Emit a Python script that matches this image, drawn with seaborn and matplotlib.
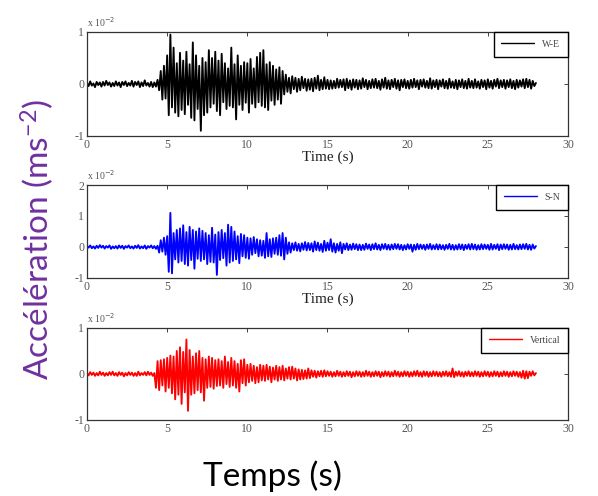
import numpy as np
import pandas as pd
import matplotlib
matplotlib.use("Agg")
import matplotlib.pyplot as plt
import seaborn as sns

# accélérations, en unités de 1e-2 m/s², pas de 0.1 s
DT = 0.1

we_vals = [
    0.02, -0.04, 0.05, -0.03, 0.01, -0.06, 0.04, -0.02, 0.03, -0.05,
    0.04, -0.03, 0.06, -0.02, 0.03, -0.05, 0.02, -0.04, 0.05, -0.03,
    0.03, -0.06, 0.04, -0.02, 0.05, -0.04, 0.02, -0.03, 0.06, -0.05,
    0.04, -0.02, 0.05, -0.06, 0.03, -0.04, 0.07, -0.03, 0.02, -0.05,
    0.04, -0.06, 0.03, -0.05, 0.08, -0.12, 0.25, -0.30, 0.35, -0.28,
    0.55, -0.60, 0.95, -0.45, 0.70, -0.55, 0.40, -0.62, 0.60, -0.50,
    0.45, -0.58, 0.62, -0.40, 0.38, -0.65, 0.80, -0.70, 0.55, -0.48,
    0.35, -0.90, 0.50, -0.60, 0.42, -0.55, 0.65, -0.45, 0.50, -0.38,
    0.62, -0.52, 0.45, -0.60, 0.58, -0.35, 0.40, -0.48, 0.30, -0.42,
    0.70, -0.45, 0.38, -0.68, 0.55, -0.40, 0.35, -0.50, 0.42, -0.36,
    0.40, -0.55, 0.48, -0.38, 0.30, -0.45, 0.52, -0.35, 0.60, -0.42,
    0.65, -0.45, 0.38, -0.50, 0.42, -0.32, 0.35, -0.40, 0.28, -0.30,
    0.32, -0.38, 0.25, -0.20, 0.18, -0.15, 0.12, -0.18, 0.15, -0.10,
    0.12, -0.15, 0.10, -0.12, 0.14, -0.08, 0.10, -0.13, 0.09, -0.11,
    0.10, -0.14, 0.12, -0.09, 0.16, -0.12, 0.08, -0.10, 0.13, -0.09,
    0.08, -0.10, 0.07, -0.09, 0.06, -0.08, 0.10, -0.07, 0.08, -0.06,
    0.09, -0.12, 0.10, -0.08, 0.07, -0.11, 0.09, -0.07, 0.08, -0.10,
    0.07, -0.09, 0.11, -0.06, 0.08, -0.10, 0.06, -0.08, 0.09, -0.07,
    0.10, -0.08, 0.06, -0.11, 0.09, -0.07, 0.12, -0.09, 0.07, -0.10,
    0.08, -0.06, 0.10, -0.09, 0.07, -0.12, 0.08, -0.06, 0.09, -0.08,
    0.06, -0.09, 0.08, -0.07, 0.10, -0.06, 0.07, -0.10, 0.08, -0.05,
    0.09, -0.07, 0.06, -0.08, 0.11, -0.09, 0.07, -0.06, 0.08, -0.10,
    0.07, -0.05, 0.09, -0.08, 0.06, -0.09, 0.10, -0.07, 0.05, -0.08,
    0.08, -0.10, 0.07, -0.06, 0.09, -0.08, 0.06, -0.09, 0.10, -0.07,
    0.06, -0.08, 0.09, -0.07, 0.05, -0.09, 0.08, -0.06, 0.07, -0.10,
    0.09, -0.07, 0.06, -0.09, 0.08, -0.05, 0.10, -0.08, 0.07, -0.06,
    0.08, -0.09, 0.07, -0.06, 0.09, -0.08, 0.06, -0.10, 0.08, -0.07,
    0.07, -0.05, 0.09, -0.08, 0.10, -0.06, 0.08, -0.09, 0.06, -0.04,
    0.02,
]

sn_vals = [
    0.03, -0.02, 0.05, -0.04, 0.02, -0.05, 0.04, -0.03, 0.06, -0.02,
    0.04, -0.05, 0.03, -0.02, 0.05, -0.06, 0.02, -0.04, 0.03, -0.05,
    0.05, -0.03, 0.04, -0.06, 0.03, -0.02, 0.05, -0.04, 0.02, -0.05,
    0.04, -0.03, 0.06, -0.05, 0.02, -0.04, 0.05, -0.06, 0.03, -0.02,
    0.05, -0.04, 0.03, -0.06, 0.04, -0.18, 0.22, -0.15, 0.30, -0.25,
    0.35, -0.80, 1.10, -0.85, 0.45, -0.40, 0.55, -0.50, 0.60, -0.45,
    0.70, -0.55, 0.48, -0.60, 0.65, -0.42, 0.55, -0.70, 0.50, -0.38,
    0.60, -0.45, 0.52, -0.40, 0.45, -0.55, 0.38, -0.48, 0.62, -0.50,
    0.40, -0.90, 0.48, -0.42, 0.55, -0.36, 0.45, -0.60, 0.72, -0.50,
    0.65, -0.45, 0.50, -0.40, 0.35, -0.52, 0.42, -0.30, 0.38, -0.35,
    0.30, -0.38, 0.28, -0.25, 0.32, -0.20, 0.25, -0.30, 0.22, -0.28,
    0.20, -0.35, 0.45, -0.30, 0.25, -0.32, 0.28, -0.22, 0.30, -0.25,
    0.38, -0.28, 0.45, -0.40, 0.30, -0.22, 0.15, -0.18, 0.12, -0.10,
    0.15, -0.12, 0.10, -0.14, 0.12, -0.09, 0.16, -0.11, 0.13, -0.10,
    0.12, -0.15, 0.18, -0.10, 0.14, -0.12, 0.10, -0.16, 0.20, -0.12,
    0.14, -0.10, 0.25, -0.15, 0.12, -0.18, 0.10, -0.12, 0.15, -0.20,
    0.10, -0.08, 0.12, -0.10, 0.08, -0.09, 0.11, -0.07, 0.09, -0.10,
    0.08, -0.10, 0.07, -0.09, 0.11, -0.06, 0.08, -0.10, 0.09, -0.07,
    0.12, -0.08, 0.07, -0.10, 0.09, -0.06, 0.10, -0.08, 0.07, -0.09,
    0.08, -0.07, 0.10, -0.06, 0.09, -0.08, 0.07, -0.10, 0.06, -0.08,
    0.09, -0.06, 0.08, -0.15, 0.07, -0.09, 0.10, -0.07, 0.08, -0.06,
    0.07, -0.09, 0.08, -0.06, 0.10, -0.08, 0.06, -0.07, 0.09, -0.08,
    0.08, -0.07, 0.06, -0.09, 0.07, -0.06, 0.10, -0.08, 0.07, -0.09,
    0.06, -0.08, 0.09, -0.07, 0.08, -0.10, 0.07, -0.06, 0.09, -0.08,
    0.10, -0.07, 0.08, -0.09, 0.06, -0.08, 0.09, -0.07, 0.08, -0.06,
    0.07, -0.09, 0.10, -0.08, 0.07, -0.06, 0.09, -0.10, 0.08, -0.07,
    0.09, -0.06, 0.08, -0.09, 0.07, -0.08, 0.10, -0.07, 0.06, -0.08,
    0.08, -0.07, 0.09, -0.06, 0.10, -0.08, 0.07, -0.09, 0.08, -0.05,
    0.03,
]

vert_vals = [
    0.02, -0.03, 0.04, -0.02, 0.03, -0.04, 0.02, -0.03, 0.05, -0.02,
    0.03, -0.04, 0.02, -0.03, 0.04, -0.02, 0.05, -0.03, 0.02, -0.04,
    0.04, -0.02, 0.03, -0.05, 0.02, -0.03, 0.04, -0.02, 0.03, -0.04,
    0.02, -0.04, 0.05, -0.03, 0.02, -0.02, 0.04, -0.03, 0.05, -0.02,
    0.03, -0.04, 0.02, -0.30, 0.28, -0.35, 0.30, -0.25, 0.32, -0.38,
    0.35, -0.30, 0.40, -0.42, 0.38, -0.55, 0.50, -0.45, 0.58, -0.65,
    0.48, -0.40, 0.75, -0.80, 0.52, -0.45, 0.38, -0.42, 0.45, -0.35,
    0.50, -0.40, 0.35, -0.58, 0.32, -0.30, 0.38, -0.28, 0.35, -0.32,
    0.30, -0.26, 0.32, -0.25, 0.28, -0.30, 0.38, -0.22, 0.26, -0.28,
    0.35, -0.25, 0.28, -0.30, 0.22, -0.38, 0.30, -0.20, 0.32, -0.25,
    0.20, -0.18, 0.22, -0.15, 0.18, -0.20, 0.15, -0.18, 0.20, -0.14,
    0.18, -0.15, 0.20, -0.12, 0.16, -0.18, 0.14, -0.12, 0.18, -0.15,
    0.15, -0.12, 0.18, -0.14, 0.12, -0.10, 0.15, -0.12, 0.16, -0.10,
    0.12, -0.14, 0.10, -0.12, 0.09, -0.11, 0.08, -0.10, 0.12, -0.09,
    0.08, -0.06, 0.07, -0.08, 0.06, -0.05, 0.07, -0.06, 0.08, -0.05,
    0.06, -0.04, 0.05, -0.06, 0.04, -0.05, 0.07, -0.04, 0.05, -0.06,
    0.04, -0.05, 0.06, -0.04, 0.05, -0.07, 0.04, -0.05, 0.06, -0.04,
    0.05, -0.06, 0.04, -0.05, 0.07, -0.04, 0.05, -0.06, 0.04, -0.05,
    0.06, -0.04, 0.05, -0.07, 0.04, -0.05, 0.06, -0.04, 0.05, -0.06,
    0.04, -0.05, 0.07, -0.04, 0.05, -0.06, 0.04, -0.05, 0.06, -0.04,
    0.05, -0.06, 0.04, -0.05, 0.06, -0.04, 0.07, -0.05, 0.04, -0.06,
    0.06, -0.04, 0.05, -0.06, 0.04, -0.05, 0.06, -0.04, 0.05, -0.05,
    0.04, -0.06, 0.05, -0.04, 0.06, -0.05, 0.04, -0.06, 0.12, -0.07,
    0.05, -0.04, 0.06, -0.05, 0.04, -0.06, 0.05, -0.04, 0.06, -0.05,
    0.04, -0.05, 0.06, -0.04, 0.05, -0.06, 0.04, -0.05, 0.06, -0.04,
    0.05, -0.06, 0.04, -0.05, 0.06, -0.04, 0.05, -0.06, 0.04, -0.05,
    0.06, -0.04, 0.05, -0.06, 0.04, -0.05, 0.06, -0.04, 0.05, -0.06,
    0.04, -0.08, 0.07, -0.10, 0.06, -0.09, 0.05, -0.04, 0.06, -0.03,
    0.02,
]

labels = ["W-E", "S-N", "Vertical"]
colors = ["black", "#0000ff", "#ff0000"]
ylims = [(-1, 1), (-1, 2), (-1, 1)]
yticks = [[-1, 0, 1], [-1, 0, 1, 2], [-1, 0, 1]]
xticks = [0, 5, 10, 15, 20, 25, 30]
series = [we_vals, sn_vals, vert_vals]

sns.set_style("white")
plt.rcParams["axes.unicode_minus"] = False

W, H = 598, 496
fig = plt.figure(figsize=(W / 100, H / 100), dpi=100)

# positions des axes en pixels (haut, bas)
boxes = [(32, 136), (185, 278), (328, 420)]
left_px, right_px = 87, 568

for i, (vals, lab, col) in enumerate(zip(series, labels, colors)):
    top, bot = boxes[i]
    ax = fig.add_axes([left_px / W, 1 - bot / H, (right_px - left_px) / W, (bot - top) / H])
    df = pd.DataFrame({"t": np.round(np.arange(len(vals)) * DT, 1), "a": vals})
    sns.lineplot(data=df, x="t", y="a", ax=ax, color=col, linewidth=1.35,
                 label=lab, estimator=None)
    ax.set_xlim(0, 30)
    ax.set_ylim(*ylims[i])
    ax.set_xticks(xticks)
    ax.set_yticks(yticks[i])
    ax.tick_params(direction="in", top=True, right=True, length=3, width=0.6,
                   labelsize=8.5, labelcolor="#555555", pad=2)
    for lbl in ax.get_xticklabels() + ax.get_yticklabels():
        lbl.set_family("Liberation Serif")
    for s in ax.spines.values():
        s.set_linewidth(0.9)
        s.set_color("#333333")
    ax.set_ylabel("")
    if i < 2:
        ax.set_xlabel("Time (s)", family="Liberation Serif", fontsize=11,
                      labelpad=0, color="#222222")
    else:
        ax.set_xlabel("")
    ax.text(0.0, 1.03, r"x 10$^{-2}$", transform=ax.transAxes, fontsize=7,
            family="Liberation Serif", color="#555555", va="bottom")
    leg = ax.legend(loc="upper right", bbox_to_anchor=(1, 1), borderaxespad=0,
                    fancybox=False, edgecolor="black", fontsize=7,
                    handlelength=3.4, borderpad=0.8, framealpha=1)
    leg.get_frame().set_linewidth(1.0)
    for txt in leg.get_texts():
        txt.set_color("#444444")
        txt.set_family("Liberation Serif")
    for ln in leg.get_lines():
        ln.set_linewidth(1.0)

fig.text(272 / W, 1 - 476 / H, "Temps (s)", family=["Lato", "DejaVu Sans"],
         fontsize=24, ha="center", va="center", color="black")
fig.text(37 / W, 1 - 240 / H, r"Accélération (ms$\mathregular{^{-2}}$)",
         family=["Lato", "DejaVu Sans"], fontsize=24, rotation=90,
         ha="center", va="center", color="#7030a0")

fig.savefig("out.png", dpi=100)
